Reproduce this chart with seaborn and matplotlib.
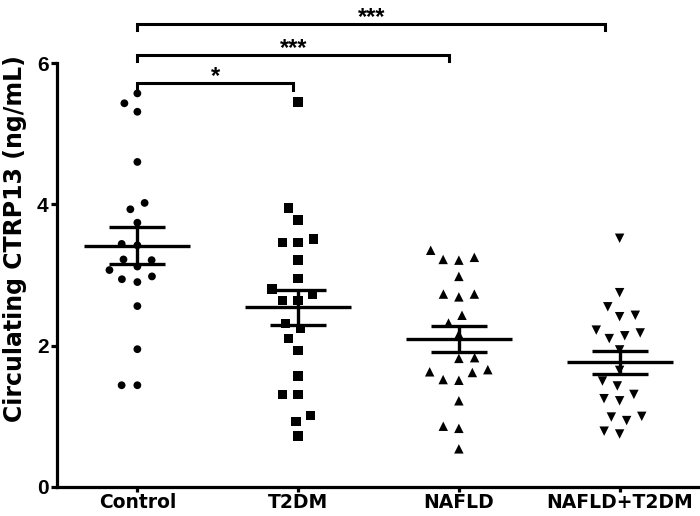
import matplotlib
matplotlib.use("Agg")
import matplotlib.pyplot as plt
import seaborn as sns
import pandas as pd
import numpy as np

# values (ng/mL)
groups = ["Control", "T2DM", "NAFLD", "NAFLD+T2DM"]
control = [5.57, 5.43, 5.31, 4.60, 4.02, 3.93, 3.74, 3.44, 3.42, 3.22,
           3.21, 3.07, 3.12, 2.94, 2.90, 2.98, 2.56, 1.95, 1.44, 1.44]
t2dm = [5.45, 3.95, 3.78, 3.46, 3.46, 3.51, 3.21, 2.95, 2.80, 2.73, 2.64,
        2.64, 2.31, 2.24, 2.10, 1.93, 1.57, 1.31, 1.31, 1.01, 0.93, 0.72]
nafld = [3.35, 3.22, 3.21, 3.25, 2.98, 2.73, 2.69, 2.73, 2.43, 2.32, 2.16,
         1.82, 1.83, 1.63, 1.52, 1.51, 1.62, 1.66, 1.22, 0.86, 0.83, 0.54]
nafld_t2dm = [3.52, 2.75, 2.55, 2.41, 2.43, 2.22, 2.14, 2.10, 2.18, 1.94,
              1.65, 1.50, 1.43, 1.31, 1.22, 1.25, 1.00, 0.94, 0.99, 0.75, 0.79]
markers = ["o", "s", "^", "v"]
marker_sizes = [5.6, 6.8, 6.8, 6.8]

# significance brackets: (group a, group b, label, height)
comparisons = [(0, 1, "*", 5.71), (0, 2, "***", 6.12), (0, 3, "***", 6.55)]

df = pd.concat([pd.DataFrame({"group": g, "value": v})
                for g, v in zip(groups, [control, t2dm, nafld, nafld_t2dm])])

plt.rcParams["font.family"] = ["Liberation Sans", "DejaVu Sans"]
fig = plt.figure(figsize=(7, 5.16), dpi=100)
ax = fig.add_axes([57/700, 1 - 487/516, 643/700, 424/516])

for g, m, ms in zip(groups, markers, marker_sizes):
    sns.swarmplot(data=df[df["group"] == g], x="group", y="value", order=groups,
                  marker=m, size=ms, color="black", edgecolor="none",
                  linewidth=10.8 - ms, ax=ax, warn_thresh=1)

stats = df.groupby("group", sort=False)["value"].agg(["mean", "sem"]).reindex(groups)
xpos = np.arange(len(groups))
ax.hlines(stats["mean"], xpos - 0.33, xpos + 0.33, color="black", lw=2.4, zorder=5)
ax.errorbar(xpos, stats["mean"], yerr=stats["sem"], fmt="none", ecolor="black",
            elinewidth=2.4, capsize=20, capthick=2.4, zorder=5)

for a, b, label, h in comparisons:
    b_end = b * 0.97
    ax.plot([a, a, b_end, b_end], [h - 0.09, h, h, h - 0.09], color="black", lw=2.2,
            clip_on=False, solid_joinstyle="miter")
    ax.text((a + b_end) / 2, h, label, ha="center", va="baseline",
            fontsize=17, fontweight="bold")

ax.set_xlim(-0.5, 3.5)
ax.set_ylim(0, 6)
ax.set_yticks([0, 2, 4, 6])
ax.set_xlabel("")
ax.set_ylabel("Circulating CTRP13 (ng/mL)", family="DejaVu Sans", fontweight="bold",
              fontsize=17, va="center")
ax.yaxis.set_label_coords(-42/643, 0.587)
sns.despine(ax=ax)
for s in ["left", "bottom"]:
    ax.spines[s].set_linewidth(2.3)
ax.tick_params(axis="both", width=2.3, length=4, pad=2)
ax.tick_params(axis="x", length=3.5, pad=0.5)
for lab in ax.get_yticklabels():
    lab.set_fontsize(15)
    lab.set_fontweight("bold")
for lab in ax.get_xticklabels():
    lab.set_fontsize(13.5)
    lab.set_fontweight("bold")
    lab.set_family("DejaVu Sans")

fig.savefig("out.png", dpi=100)
